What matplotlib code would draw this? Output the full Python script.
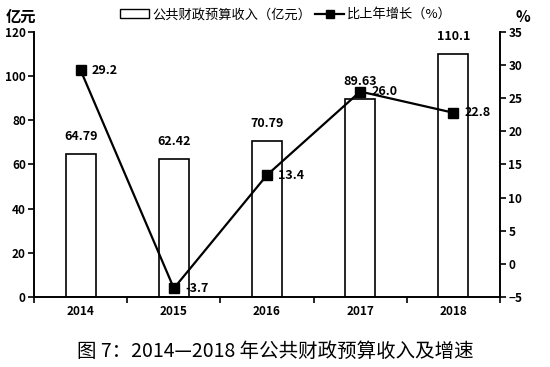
import numpy as np
import matplotlib.pyplot as plt
from matplotlib.lines import Line2D
from matplotlib.patches import Patch

plt.rcParams['font.family'] = ['Noto Sans CJK SC', 'DejaVu Sans']

# data
years = ['2014', '2015', '2016', '2017', '2018']
revenue = [64.79, 62.42, 70.79, 89.63, 110.1]
growth = [29.2, -3.7, 13.4, 26.0, 22.8]
revenue_labels = ['64.79', '62.42', '70.79', '89.63', '110.1']
growth_labels = ['29.2', '-3.7', '13.4', '26.0', '22.8']

fig = plt.figure(figsize=(5.5, 3.67), dpi=100)
ax = fig.add_axes([0.062, 0.191, 0.847, 0.722])
ax2 = ax.twinx()

x = np.arange(len(years))
ax.bar(x, revenue, width=0.32, facecolor='white', edgecolor='black', linewidth=1.2)
for xi, v, s in zip(x, revenue, revenue_labels):
    ax.text(xi, v + 5, s, ha='center', va='bottom', fontsize=9, fontweight='bold')

ax.set_xlim(-0.5, len(years) - 0.5)
ax.set_ylim(0, 120)
ax.set_yticks(np.arange(0, 121, 20))
ax.set_xticks(x)
ax.set_xticklabels(years, fontsize=8.5, fontweight='bold')
ax.set_xticks(np.arange(-0.5, len(years), 1), minor=True)
ax.tick_params(axis='x', which='major', length=0, pad=6)
ax.tick_params(axis='x', which='minor', length=4, width=1.2, direction='out')
ax.tick_params(axis='y', labelsize=8.5, length=4, width=1.2, pad=2)
for lab in ax.get_yticklabels():
    lab.set_fontweight('bold')

ax2.plot(x, growth, color='black', linewidth=1.6, marker='s', markersize=7)
for xi, v, s in zip(x, growth, growth_labels):
    ax2.text(xi + 0.12, v, s, ha='left', va='center', fontsize=9, fontweight='bold')
ax2.set_ylim(-5, 35)
ax2.set_yticks(np.arange(-5, 36, 5))
ax2.tick_params(axis='y', labelsize=8.5, length=4, width=1.2, pad=2)
for lab in ax2.get_yticklabels():
    lab.set_fontweight('bold')

for a in (ax, ax2):
    a.spines['top'].set_visible(False)
    for sp in ('left', 'right', 'bottom'):
        a.spines[sp].set_linewidth(1.2)

fig.text(0.01, 0.975, '亿元', ha='left', va='top', fontsize=11, fontweight='bold')
fig.text(0.95, 0.975, '%', ha='center', va='top', fontsize=11, fontweight='bold')

handles = [Patch(facecolor='white', edgecolor='black', linewidth=1.0),
           Line2D([0], [0], color='black', marker='s', markersize=6, linewidth=1.6)]
fig.legend(handles, ['公共财政预算收入（亿元）', '比上年增长（%）'],
           loc='upper center', bbox_to_anchor=(0.52, 1.01), ncol=2, frameon=False,
           fontsize=9.5, handlelength=2.2, columnspacing=0.3, handletextpad=0.2)

fig.text(0.5, 0.015, '图 7：2014—2018 年公共财政预算收入及增速', ha='center', va='bottom',
         fontsize=14)

fig.savefig('out.png', dpi=100)
